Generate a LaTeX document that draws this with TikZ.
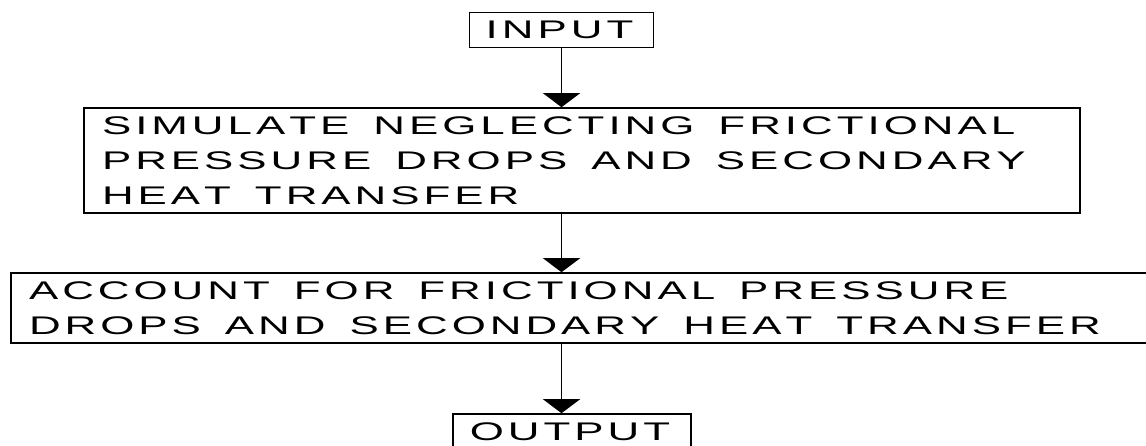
\documentclass[tikz,border=0pt]{standalone}
\usepackage{fontspec}
\usepackage{graphicx}
\setmainfont{Liberation Sans}
\usetikzlibrary{arrows.meta}
\newcommand{\plotstretch}{1.72}
\newlength{\plotletsp}\setlength{\plotletsp}{4pt}
\newlength{\plotwordsp}\setlength{\plotwordsp}{20pt}
\ExplSyntaxOn
\cs_new_protected:Npn \plotline #1
 {
  \seq_set_split:Nnn \l_tmpa_seq { ~ } { #1 }
  \seq_map_indexed_inline:Nn \l_tmpa_seq
   {
    \int_compare:nNnT { ##1 } > { 1 } { \hspace*{\plotwordsp} }
    \tl_map_inline:nn { ##2 } { \scalebox{\plotstretch}[1]{####1}\hspace*{\plotletsp} }
   }
 }
\ExplSyntaxOff
\tikzset{
  box/.style={draw, line width=1.6pt, rectangle, inner sep=0pt,
    font=\fontsize{25.5}{35}\selectfont},
  flow/.style={line width=1.6pt, -{Triangle[width=37pt,length=14pt]}}
}
\begin{document}
\begin{tikzpicture}[x=1pt,y=-1pt]
\useasboundingbox (0,0) rectangle (1146,445);
\clip (0,0) rectangle (1146,445);
\node[box, minimum width=184pt, minimum height=35pt] (in) at (561.5,30) {\plotline{INPUT}};
\node[box, minimum width=996pt, minimum height=105pt, text width=960pt, align=left] (sim) at (582,160.5)
  {\plotline{SIMULATE NEGLECTING FRICTIONAL}\\\plotline{PRESSURE DROPS AND SECONDARY}\\\plotline{HEAT TRANSFER}};
\node[box, minimum width=1189pt, minimum height=70pt, text width=1153pt, align=left] (acc) at (605.5,308)
  {\plotline{ACCOUNT FOR FRICTIONAL PRESSURE}\\\plotline{DROPS AND SECONDARY HEAT TRANSFER}};
\node[box, minimum width=238pt, minimum height=35pt] (out) at (572,431.5) {\plotline{OUTPUT}};
\draw[flow] (in.south) -- (in.south |- sim.north);
\draw[flow] (sim.south -| in.south) -- (in.south |- acc.north);
\draw[flow] (acc.south -| in.south) -- (in.south |- out.north);
\end{tikzpicture}
\end{document}
